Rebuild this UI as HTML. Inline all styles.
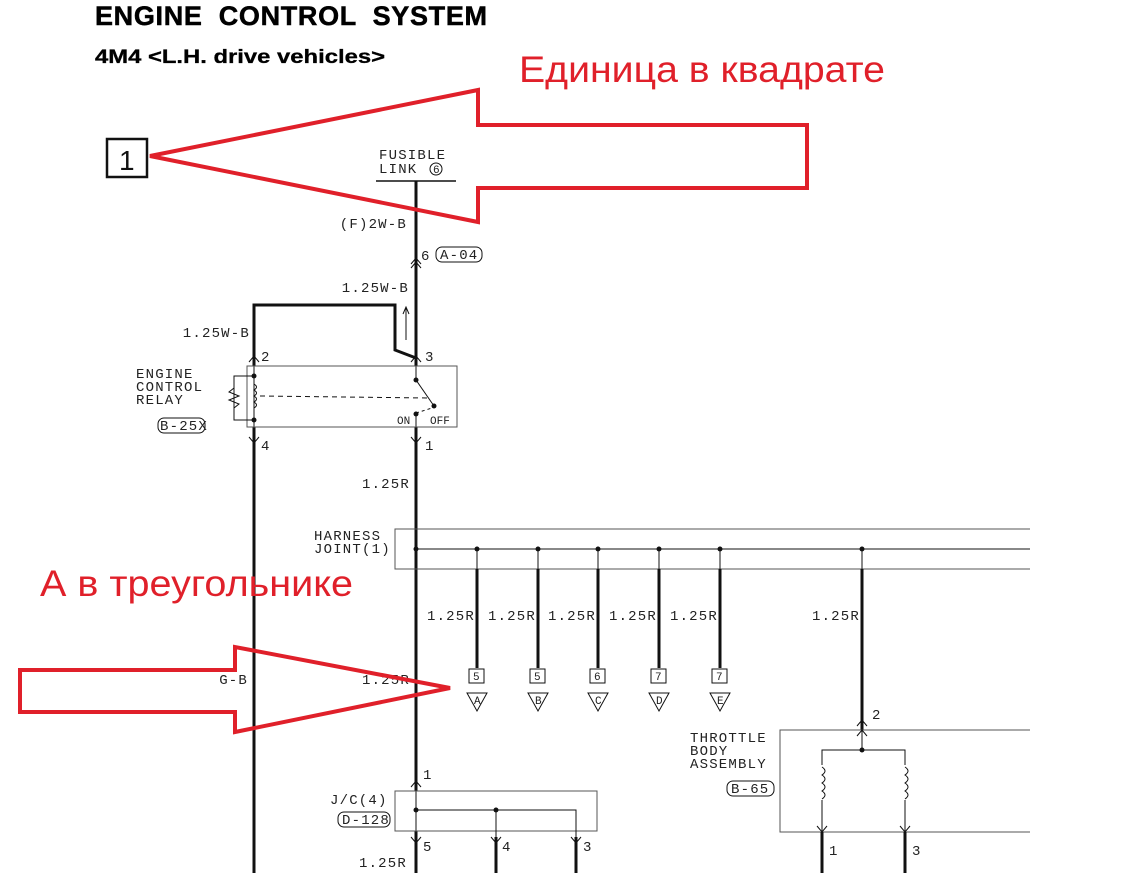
<!DOCTYPE html>
<html><head><meta charset="utf-8"><style>
html,body{margin:0;padding:0;background:#fff;}
svg{display:block;}
.m{font-family:"Liberation Mono",monospace;font-size:14px;fill:#222;letter-spacing:1.2px;}
.s{font-family:"Liberation Mono",monospace;font-size:11px;fill:#222;}
</style></head><body>
<svg width="1122" height="873" viewBox="0 0 1122 873" xmlns="http://www.w3.org/2000/svg">
<text x="95" y="25" font-family="Liberation Sans,sans-serif" font-weight="bold" font-size="27" word-spacing="8" stroke="#000" stroke-width="0.5" textLength="392" lengthAdjust="spacing">ENGINE CONTROL SYSTEM</text>
<text x="95" y="63" font-family="Liberation Sans,sans-serif" font-weight="bold" font-size="19" stroke="#000" stroke-width="0.3" textLength="290" lengthAdjust="spacingAndGlyphs">4M4 &lt;L.H. drive vehicles&gt;</text>

<g stroke="#111" fill="none">
<rect x="107" y="139" width="40" height="38" stroke-width="2.5"/>
<line x1="376" y1="181" x2="456" y2="181" stroke-width="1.5"/>
<line x1="416" y1="181" x2="416" y2="366" stroke-width="3"/>
<line x1="416" y1="366" x2="416" y2="380" stroke-width="1"/>
<line x1="416" y1="414" x2="416" y2="427" stroke-width="1"/>
<line x1="416" y1="427" x2="416" y2="791" stroke-width="3"/>
<line x1="416" y1="791" x2="416" y2="831" stroke-width="1"/>
<line x1="416" y1="831" x2="416" y2="873" stroke-width="3"/>
<polyline points="254,366 254,305 395,305 395,350 416,358" stroke-width="3"/>
<line x1="254" y1="366" x2="254" y2="427" stroke-width="1"/>
<line x1="254" y1="427" x2="254" y2="873" stroke-width="3"/>
<line x1="406" y1="340" x2="406" y2="308" stroke-width="1"/>
<polyline points="403,314 406,307 409,314" stroke-width="1"/>
<rect x="436" y="247" width="46" height="15" rx="6" stroke-width="1"/>
<polyline points="411,268 416,262 421,268" stroke-width="1"/>
<polyline points="411,264 416,258 421,264" stroke-width="1"/>
<rect x="247" y="366" width="210" height="61" stroke-width="1" stroke="#555"/>
<polyline points="249,362 254,356 259,362" stroke-width="1"/>
<polyline points="411,362 416,356 421,362" stroke-width="1"/>
<polyline points="249,437 254,443 259,437" stroke-width="1"/>
<polyline points="411,437 416,443 421,437" stroke-width="1"/>
<polyline points="254,376 234,376 234,420 254,420" stroke-width="1"/>
<polyline points="234,388 229,392 239,396 229,400 239,404 234,408" stroke-width="1"/>
<path d="M254 384 q5 3 0 6 q5 3 0 6 q5 3 0 6 q5 3 0 6" stroke-width="1"/>
<line x1="260" y1="396" x2="428" y2="398" stroke-width="1" stroke-dasharray="5,4"/>
<line x1="416" y1="380" x2="434" y2="406" stroke-width="1"/>
<line x1="416" y1="413" x2="432" y2="408" stroke-width="1" stroke-dasharray="3,3"/>
<rect x="158" y="418" width="47" height="15" rx="6" stroke-width="1"/>
<polyline points="1030,529 395,529 395,569 1030,569" stroke-width="1" stroke="#555"/>
<line x1="416" y1="549" x2="1030" y2="549" stroke-width="1"/>
<g stroke-width="3">
<line x1="477" y1="569" x2="477" y2="668"/>
<line x1="538" y1="569" x2="538" y2="668"/>
<line x1="598" y1="569" x2="598" y2="668"/>
<line x1="659" y1="569" x2="659" y2="668"/>
<line x1="720" y1="569" x2="720" y2="668"/>
<line x1="862" y1="569" x2="862" y2="730"/>
</g>
<g stroke-width="1">
<line x1="862" y1="730" x2="862" y2="750"/>
<line x1="477" y1="549" x2="477" y2="569"/><line x1="538" y1="549" x2="538" y2="569"/>
<line x1="598" y1="549" x2="598" y2="569"/><line x1="659" y1="549" x2="659" y2="569"/>
<line x1="720" y1="549" x2="720" y2="569"/><line x1="862" y1="549" x2="862" y2="569"/>
<rect x="469" y="669" width="15" height="14"/><rect x="530" y="669" width="15" height="14"/>
<rect x="590" y="669" width="15" height="14"/><rect x="651" y="669" width="15" height="14"/>
<rect x="712" y="669" width="15" height="14"/>
<polygon points="467,693 487,693 477,711"/><polygon points="528,693 548,693 538,711"/>
<polygon points="588,693 608,693 598,711"/><polygon points="649,693 669,693 659,711"/>
<polygon points="710,693 730,693 720,711"/>
</g>
<polyline points="1030,730 780,730 780,832 1030,832" stroke-width="1" stroke="#555"/>
<polyline points="857,726 862,720 867,726" stroke-width="1"/>
<polyline points="857,736 862,730 867,736" stroke-width="1"/>
<polyline points="822,832 822,750 905,750 905,832" stroke-width="1"/>
<rect x="818" y="765" width="8" height="35" fill="#fff" stroke="none"/>
<rect x="901" y="765" width="8" height="35" fill="#fff" stroke="none"/>
<path d="M822 767 q6 4 0 8 q6 4 0 8 q6 4 0 8 q6 4 0 8" stroke-width="1"/>
<path d="M905 767 q6 4 0 8 q6 4 0 8 q6 4 0 8 q6 4 0 8" stroke-width="1"/>
<polyline points="817,826 822,832 827,826" stroke-width="1"/>
<polyline points="900,826 905,832 910,826" stroke-width="1"/>
<line x1="822" y1="832" x2="822" y2="873" stroke-width="3"/>
<line x1="905" y1="832" x2="905" y2="873" stroke-width="3"/>
<rect x="727" y="781" width="47" height="15" rx="6" stroke-width="1"/>
<rect x="395" y="791" width="202" height="40" stroke-width="1" stroke="#555"/>
<polyline points="416,810 576,810 576,873" stroke-width="1"/>
<line x1="496" y1="810" x2="496" y2="873" stroke-width="1"/>
<line x1="496" y1="837" x2="496" y2="873" stroke-width="3"/>
<line x1="576" y1="837" x2="576" y2="873" stroke-width="3"/>
<polyline points="411,787 416,781 421,787" stroke-width="1"/>
<polyline points="411,837 416,843 421,837" stroke-width="1"/>
<polyline points="491,837 496,843 501,837" stroke-width="1"/>
<polyline points="571,837 576,843 581,837" stroke-width="1"/>
<rect x="338" y="812" width="52" height="15" rx="6" stroke-width="1"/>
</g>
<g fill="#111">
<circle cx="254" cy="376" r="2.5"/><circle cx="254" cy="420" r="2.5"/>
<circle cx="416" cy="380" r="2.5"/><circle cx="434" cy="406" r="2.5"/><circle cx="416" cy="414" r="2.5"/>
<circle cx="416" cy="549" r="2.5"/><circle cx="477" cy="549" r="2.5"/><circle cx="538" cy="549" r="2.5"/>
<circle cx="598" cy="549" r="2.5"/><circle cx="659" cy="549" r="2.5"/><circle cx="720" cy="549" r="2.5"/>
<circle cx="862" cy="549" r="2.5"/><circle cx="862" cy="750" r="2.5"/>
<circle cx="416" cy="810" r="2.5"/><circle cx="496" cy="810" r="2.5"/>
</g>
<text x="119" y="170" font-family="Liberation Sans,sans-serif" font-size="28" fill="#111">1</text>
<text class="m" x="379" y="159">FUSIBLE</text>
<text class="m" x="379" y="173">LINK</text>
<circle cx="436" cy="169" r="6" fill="none" stroke="#111"/>
<text class="s" x="433" y="173" font-size="9">6</text>
<text class="m" x="407" y="228" text-anchor="end">(F)2W-B</text>
<text class="m" x="421" y="260">6</text>
<text class="m" x="440" y="259">A-04</text>
<text class="m" x="409" y="292" text-anchor="end">1.25W-B</text>
<text class="m" x="250" y="337" text-anchor="end">1.25W-B</text>
<text class="m" x="261" y="361">2</text><text class="m" x="425" y="361">3</text>
<text class="m" x="261" y="450">4</text><text class="m" x="425" y="450">1</text>
<text class="m" x="136" y="378">ENGINE</text>
<text class="m" x="136" y="391">CONTROL</text>
<text class="m" x="136" y="404">RELAY</text>
<text class="m" x="160" y="430">B-25X</text>
<text class="s" x="397" y="424">ON</text><text class="s" x="430" y="424">OFF</text>
<text class="m" x="410" y="488" text-anchor="end">1.25R</text>
<text class="m" x="314" y="540">HARNESS</text>
<text class="m" x="314" y="553">JOINT(1)</text>
<text class="m" x="475" y="620" text-anchor="end">1.25R</text>
<text class="m" x="536" y="620" text-anchor="end">1.25R</text>
<text class="m" x="596" y="620" text-anchor="end">1.25R</text>
<text class="m" x="657" y="620" text-anchor="end">1.25R</text>
<text class="m" x="718" y="620" text-anchor="end">1.25R</text>
<text class="m" x="860" y="620" text-anchor="end">1.25R</text>
<text class="s" x="473" y="680">5</text><text class="s" x="534" y="680">5</text>
<text class="s" x="594" y="680">6</text><text class="s" x="655" y="680">7</text>
<text class="s" x="716" y="680">7</text>
<text class="s" x="474" y="704" font-size="9">A</text><text class="s" x="535" y="704" font-size="9">B</text>
<text class="s" x="595" y="704" font-size="9">C</text><text class="s" x="656" y="704" font-size="9">D</text>
<text class="s" x="717" y="704" font-size="9">E</text>
<text class="m" x="248" y="684" text-anchor="end">G-B</text>
<text class="m" x="410" y="684" text-anchor="end" fill="#666">1.25R</text>
<text class="m" x="872" y="719">2</text>
<text class="m" x="690" y="742">THROTTLE</text>
<text class="m" x="690" y="755">BODY</text>
<text class="m" x="690" y="768">ASSEMBLY</text>
<text class="m" x="731" y="793">B-65</text>
<text class="m" x="423" y="779">1</text>
<text class="m" x="330" y="804">J/C(4)</text>
<text class="m" x="342" y="824">D-128</text>
<text class="m" x="423" y="851">5</text><text class="m" x="502" y="851">4</text><text class="m" x="583" y="851">3</text>
<text class="m" x="829" y="855">1</text><text class="m" x="912" y="855">3</text>
<text class="m" x="407" y="867" text-anchor="end">1.25R</text>

<g fill="none" stroke="#e0202a" stroke-width="4" stroke-linejoin="miter">
<polygon points="150,156 478,90 478,125 807,125 807,188 478,188 478,222"/>
<polygon points="20,670 235,670 235,647 450,688 235,732 235,712 20,712"/>
</g>
<text x="519" y="82" font-family="Liberation Sans,sans-serif" font-size="37" fill="#e0202a" textLength="366" lengthAdjust="spacingAndGlyphs">Единица в квадрате</text>
<text x="40" y="596" font-family="Liberation Sans,sans-serif" font-size="37" fill="#e0202a" textLength="313" lengthAdjust="spacingAndGlyphs">А в треугольнике</text>
</svg>
</body></html>
